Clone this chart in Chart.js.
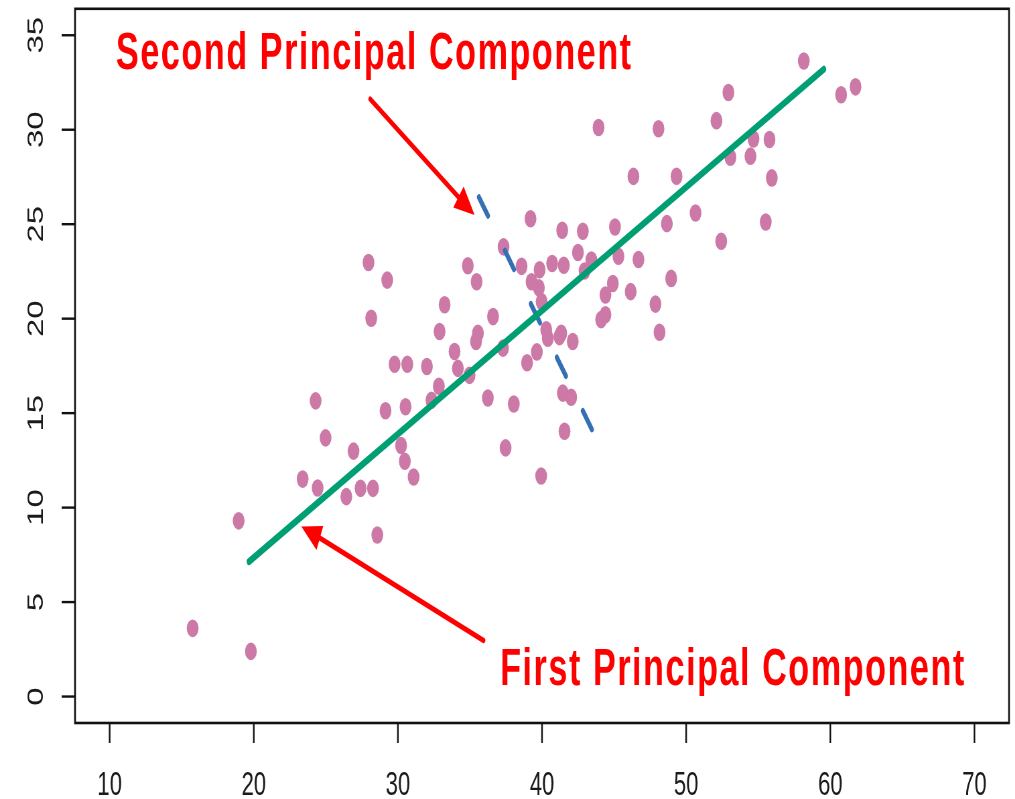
<!DOCTYPE html>
<html>
<head>
<meta charset="utf-8">
<script src="https://cdn.jsdelivr.net/npm/chart.js@4/dist/chart.umd.min.js"></script>
<style>
    html, body { margin: 0; padding: 0; background: #fff; overflow: hidden; }
    #wrap { width: 1015px; height: 799px; overflow: hidden; }
    /* the original figure is squeezed horizontally, so draw wide and squash */
    #squash { width: 1515px; height: 799px; transform: scaleX(0.67); transform-origin: 0 0; }
</style>
</head>
<body>
<div id="wrap"><div id="squash"><canvas id="chartRef" width="1515" height="799"></canvas></div></div>
<script>
// observations
const xVals = [
    15.76, 19.8, 18.95, 23.39, 24.43, 24.29, 24.98, 26.92, 26.42, 27.41,
    28.27, 28.57, 27.96, 28.15, 29.26, 29.14, 29.77, 30.65, 30.22, 30.48,
    30.53, 31.09, 32.01, 32.33, 32.84, 32.89, 33.24, 33.93, 34.16, 34.97,
    34.85, 35.46, 35.55, 35.42, 36.6, 36.24, 37.33, 37.29, 37.47, 38.04,
    38.58, 39.2, 38.96, 39.27, 39.64, 39.94, 39.83, 39.78, 39.97, 40.29,
    40.4, 40.7, 41.33, 41.21, 41.4, 41.51, 41.44, 41.56, 42.13, 42.02,
    42.49, 42.83, 42.95, 43.42, 43.92, 44.1, 44.4, 44.4, 44.91, 45.06,
    45.3, 46.15, 46.34, 46.69, 47.87, 48.08, 48.15, 48.66, 48.96, 49.33,
    50.65, 52.1, 52.43, 52.93, 53.07, 54.46, 54.67, 55.52, 55.78, 55.94,
    58.16, 60.75, 61.75
];
const yVals = [
    3.61, 2.39, 9.3, 11.51, 11.04, 15.65, 13.69, 12.99, 10.58, 11.02,
    11.02, 8.55, 22.97, 20.02, 22.04, 15.13, 17.59, 17.59, 13.29, 12.45,
    15.34, 11.62, 17.47, 15.68, 16.42, 19.32, 20.74, 18.26, 17.37, 17.0,
    22.8, 21.95, 19.23, 18.79, 20.11, 15.8, 23.8, 18.44, 13.16, 15.48,
    22.77, 25.29, 17.67, 21.95, 18.24, 11.67, 22.59, 21.64, 20.9, 19.41,
    18.96, 22.92, 19.23, 19.05, 24.68, 22.83, 16.06, 14.04, 18.79, 15.84,
    23.5, 24.63, 22.52, 23.1, 30.12, 19.95, 20.21, 21.25, 21.86, 24.85,
    23.3, 21.43, 27.53, 23.13, 20.77, 30.05, 19.28, 25.03, 22.13, 27.54,
    25.59, 30.48, 24.1, 31.97, 28.54, 28.6, 29.51, 25.12, 29.48, 27.45,
    33.64, 31.85, 32.27
];

// principal component directions (end points)
const pc1X = [19.67, 59.55];
const pc1Y = [7.14, 33.2];
const pc2X = [35.62, 43.57];
const pc2Y = [26.43, 13.96];

const xTicks = [10, 20, 30, 40, 50, 60, 70];
const yTicks = [0, 5, 10, 15, 20, 25, 30, 35];

// annotations, in data units
const notes = [
    { text: "Second Principal Component", x: 10.44, y: 33.2, from: [28.08, 31.62], to: [35.32, 25.49] },
    { text: "First Principal Component", x: 37.09, y: 0.6, from: [35.94, 2.97], to: [23.3, 9.0] },
];

const toPoints = (xs, ys) => xs.map((x, i) => ({ x: x, y: ys[i] }));

const rAxes = {
    id: "rAxes",
    afterDatasetsDraw(chart) {
        const ctx = chart.ctx;
        const area = chart.chartArea;
        const xs = chart.scales.x;
        const ys = chart.scales.y;
        ctx.save();

        // box
        ctx.strokeStyle = "#111";
        ctx.lineWidth = 2.6;
        ctx.strokeRect(area.left, area.top, area.right - area.left, area.bottom - area.top);

        // ticks + labels
        ctx.lineWidth = 2.4;
        ctx.fillStyle = "#1a1a1a";
        ctx.font = "33px 'Liberation Sans', Arial, sans-serif";
        ctx.textAlign = "center";
        ctx.textBaseline = "alphabetic";
        xTicks.forEach((t) => {
            const px = xs.getPixelForValue(t);
            ctx.beginPath();
            ctx.moveTo(px, area.bottom);
            ctx.lineTo(px, area.bottom + 20);
            ctx.stroke();
            ctx.fillText(String(t), px, area.bottom + 72);
        });
        yTicks.forEach((t) => {
            const py = ys.getPixelForValue(t);
            ctx.beginPath();
            ctx.moveTo(area.left, py);
            ctx.lineTo(area.left - 20, py);
            ctx.stroke();
            ctx.save();
            ctx.translate(area.left - 48, py);
            ctx.rotate(-Math.PI / 2);
            ctx.fillText(String(t), 0, 0);
            ctx.restore();
        });

        // red arrows and labels
        ctx.strokeStyle = "#ff0000";
        ctx.fillStyle = "#ff0000";
        ctx.lineWidth = 5.5;
        ctx.lineCap = "round";
        notes.forEach((n) => {
            const x0 = xs.getPixelForValue(n.from[0]);
            const y0 = ys.getPixelForValue(n.from[1]);
            const x1 = xs.getPixelForValue(n.to[0]);
            const y1 = ys.getPixelForValue(n.to[1]);
            const len = Math.hypot(x1 - x0, y1 - y0);
            const ux = (x1 - x0) / len;
            const uy = (y1 - y0) / len;
            const headLen = 30;
            const headW = 13;
            ctx.beginPath();
            ctx.moveTo(x0, y0);
            ctx.lineTo(x1 - ux * headLen * 0.8, y1 - uy * headLen * 0.8);
            ctx.stroke();
            ctx.beginPath();
            ctx.moveTo(x1, y1);
            ctx.lineTo(x1 - ux * headLen - uy * headW, y1 - uy * headLen + ux * headW);
            ctx.lineTo(x1 - ux * headLen + uy * headW, y1 - uy * headLen - ux * headW);
            ctx.closePath();
            ctx.fill();

            ctx.font = "bold 51px 'Liberation Sans', Arial, sans-serif";
            ctx.textAlign = "left";
            ctx.letterSpacing = "2.3px";
            ctx.fillText(n.text, xs.getPixelForValue(n.x), ys.getPixelForValue(n.y));
            ctx.letterSpacing = "0px";
        });
        ctx.restore();
    },
};

document.addEventListener("DOMContentLoaded", () => {
    const chartRef = document.getElementById("chartRef");
    const ctx = chartRef.getContext("2d");

    new Chart(ctx, {
        type: "scatter",
        data: {
            datasets: [
                {
                    label: "PC1",
                    data: toPoints(pc1X, pc1Y),
                    showLine: true,
                    borderColor: "#009E73",
                    borderWidth: 7,
                    borderCapStyle: "round",
                    pointRadius: 0,
                    order: 0,
                },
                {
                    label: "PC2",
                    data: toPoints(pc2X, pc2Y),
                    showLine: true,
                    borderColor: "#3570B5",
                    borderWidth: 6,
                    borderCapStyle: "round",
                    borderDash: [23, 43],
                    pointRadius: 0,
                    order: 0,
                },
                {
                    label: "obs",
                    data: toPoints(xVals, yVals),
                    backgroundColor: "#CC79A7",
                    borderWidth: 0,
                    pointRadius: 8.8,
                    order: 1,
                },
            ],
        },
        options: {
            responsive: false,
            animation: false,
            layout: { padding: { left: 112, right: 9, top: 6, bottom: 76 } },
            plugins: { legend: { display: false }, tooltip: { enabled: false } },
            scales: {
                x: { type: "linear", min: 7.6, max: 72.4, display: false },
                y: { type: "linear", min: -1.4, max: 36.4, display: false },
            },
        },
        plugins: [rAxes],
    });
});
</script>
</body>
</html>
